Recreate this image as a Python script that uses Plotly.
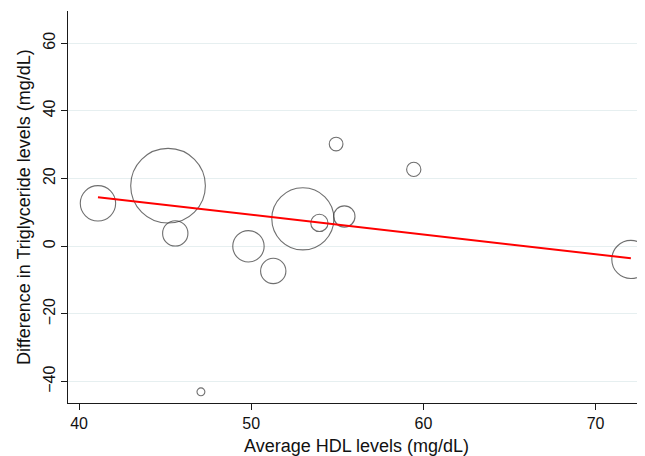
import numpy as np
import plotly.graph_objects as go

# Data
hdl = [41.1, 45.17, 45.59, 49.84, 51.28, 53.0, 53.96, 55.41, 54.93, 59.44, 72.05, 47.08]
tg_diff = [12.7, 17.9, 3.8, 0.0, -7.3, 8.1, 6.9, 8.8, 30.2, 22.7, -3.9, -43.0]
weights = [8.0, 35.7, 4.1, 6.3, 4.1, 24.7, 1.9, 2.9, 1.2, 1.3, 9.3, 0.4]  # relative study weights (%)

fit_intercept = 38.46
fit_slope = -0.583

x_tick_vals = [40, 50, 60, 70]
y_tick_vals = [-40, -20, 0, 20, 40, 60]

x_title = "Average HDL levels (mg/dL)"
y_title = "Difference in Triglyceride levels (mg/dL)"

# Marker diameters proportional to sqrt(weight) (area ~ weight)
diam = [12.5 * np.sqrt(w) for w in weights]

xfit = np.array([min(hdl), max(hdl)])
yfit = fit_intercept + fit_slope * xfit

fig = go.Figure()
fig.add_trace(go.Scatter(
    x=hdl, y=tg_diff, mode="markers",
    marker=dict(size=diam, sizemode="diameter", color="rgba(0,0,0,0)",
                line=dict(color="#333333", width=1.1)),
    showlegend=False, hoverinfo="x+y",
))
fig.add_trace(go.Scatter(
    x=xfit, y=yfit, mode="lines",
    line=dict(color="#ff0000", width=2),
    showlegend=False,
))

tick_font = dict(family="Liberation Sans, Arial, sans-serif", size=16, color="#111111")
title_font = dict(family="Liberation Sans, Arial, sans-serif", size=18, color="#111111")

# The page body has an 8px margin, so the figure is sized to fit the window.
fig.update_layout(
    width=637, height=448,
    margin=dict(l=60, r=0, t=3, b=53, autoexpand=False),
    paper_bgcolor="white", plot_bgcolor="white",
    font=tick_font,
    xaxis=dict(
        range=[39.36, 72.87], tickvals=x_tick_vals, showgrid=False, zeroline=False,
        showline=True, linecolor="#1a1a1a", linewidth=1.2,
        ticks="outside", ticklen=6, tickcolor="#1a1a1a",
        tickfont=tick_font, automargin=False,
    ),
    yaxis=dict(
        range=[-46.3, 69.5], tickvals=y_tick_vals, showgrid=True, gridcolor="#e6eff0",
        gridwidth=1, zeroline=False,
        showline=True, linecolor="#1a1a1a", linewidth=1.2,
        ticks="outside", ticklen=6, tickcolor="#1a1a1a",
        tickangle=-90, tickfont=tick_font, automargin=False,
    ),
    annotations=[
        dict(text=x_title, xref="paper", yref="paper", x=0.5, y=0,
             xanchor="center", yanchor="middle", yshift=-43, showarrow=False,
             font=title_font),
        dict(text=y_title, xref="paper", yref="paper", x=0, y=0.5,
             xanchor="center", yanchor="middle", xshift=-44, textangle=-90,
             showarrow=False, font=title_font),
    ],
)

fig.write_html("out.html")
